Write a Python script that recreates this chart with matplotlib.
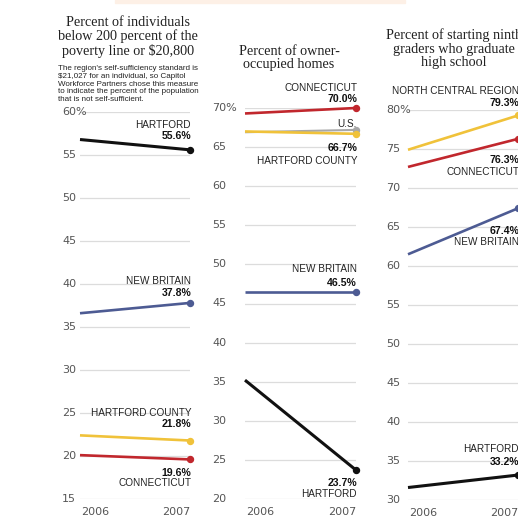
import matplotlib.pyplot as plt
from matplotlib import transforms
from matplotlib.patches import Rectangle

W, H = 518, 520

years = ["2006", "2007"]

# Panel 1: individuals below 200% of poverty line
pov_hartford = [56.8, 55.6]
pov_new_britain = [36.6, 37.8]
pov_hartford_county = [22.4, 21.8]
pov_connecticut = [20.1, 19.6]
pov_ticks = [15, 20, 25, 30, 35, 40, 45, 50, 55, 60]

# Panel 2: owner-occupied homes
own_connecticut = [69.3, 70.0]
own_us = [66.9, 67.2]
own_hartford_county = [67.0, 66.7]
own_new_britain = [46.5, 46.5]
own_hartford = [35.2, 23.7]
own_ticks = [20, 25, 30, 35, 40, 45, 50, 55, 60, 65, 70]

# Panel 3: ninth graders who graduate
grad_north_central = [74.9, 79.3]
grad_connecticut = [72.7, 76.3]
grad_new_britain = [61.5, 67.4]
grad_hartford = [31.6, 33.2]
grad_ticks = [30, 35, 40, 45, 50, 55, 60, 65, 70, 75, 80]

RED = "#c1272d"
YELLOW = "#f0c23a"
BLUE = "#4d5b93"
BLACK = "#111111"
GRAY = "#a8a8a8"
GRID = "#dcdcdc"

SERIF = ["Liberation Serif", "DejaVu Serif"]
NARROW = ["Liberation Sans Narrow", "Liberation Sans", "DejaVu Sans"]
TICKF = ["DejaVu Sans"]

fig = plt.figure(figsize=(W / 100, H / 100), dpi=100)
fig.patch.set_facecolor("white")

# faint strip of a header cut off at the top
fig.patches.append(Rectangle((115 / W, 1 - 3 / H), 290 / W, 3 / H,
                             transform=fig.transFigure, color="#fdf0e6", zorder=0))


def panel(left, top, right, bottom, ticks, ylab_x):
    ax = fig.add_axes([left / W, 1 - bottom / H, (right - left) / W, (bottom - top) / H])
    ax.set_xlim(0, 1)
    ax.set_ylim(ticks[0], ticks[-1])
    for s in ax.spines.values():
        s.set_visible(False)
    ax.set_xticks([])
    ax.set_yticks([])
    ax.patch.set_alpha(0)
    tr = transforms.blended_transform_factory(fig.transFigure, ax.transData)
    for i, y in enumerate(ticks):
        ax.axhline(y, color=GRID, lw=0.9, zorder=0)
        lab = f"{y}%" if i == len(ticks) - 1 else f"{y}"
        fig.text(ylab_x / W, y, lab, transform=tr, ha="left", va="center",
                 fontsize=8, color="#555555", family=TICKF)
    for x, yr, ha in [(0, years[0], "left"), (1, years[1], "right")]:
        ax.annotate(yr, xy=(x, 0), xycoords=("data", "axes fraction"),
                    xytext=(1 if ha == "left" else 0, -9.5), textcoords="offset points",
                    ha=ha, va="center", fontsize=8, color="#555555", family=TICKF)
    return ax


def series(ax, vals, color, lw=1.9):
    ax.plot([0, 1], vals, color=color, lw=lw, solid_capstyle="butt", clip_on=False, zorder=3)
    ax.plot([1], [vals[1]], "o", ms=4.3, color=color, clip_on=False, zorder=4)


def label(ax, name, name_y, val, val_y):
    ax.text(1.01, name_y, name, ha="right", va="center", fontsize=7.2,
            color="#222222", family=NARROW, clip_on=False)
    ax.text(1.01, val_y, f"{val:.1f}%", ha="right", va="center", fontsize=7.6,
            fontweight="bold", color="#111111", family=NARROW, clip_on=False)


# ---- panel 1 ----
ax1 = panel(80, 112, 190, 499, pov_ticks, 62)
series(ax1, pov_hartford, BLACK, lw=2.2)
series(ax1, pov_new_britain, BLUE)
series(ax1, pov_hartford_county, YELLOW)
series(ax1, pov_connecticut, RED)
label(ax1, "HARTFORD", 58.5, pov_hartford[1], 57.2)
label(ax1, "NEW BRITAIN", 40.35, pov_new_britain[1], 38.95)
label(ax1, "HARTFORD COUNTY", 25.0, pov_hartford_county[1], 23.7)
label(ax1, "CONNECTICUT", 16.9, pov_connecticut[1], 18.05)

fig.text(128 / W, 1 - 37 / H, "Percent of individuals\nbelow 200 percent of the\npoverty line or $20,800",
         ha="center", va="center", fontsize=10.2, family=SERIF, color="#222222", linespacing=1.05)
fig.text(58 / W, 1 - 84 / H,
         "The region's self-sufficiency standard is\n$21,027 for an individual, so Capitol\n"
         "Workforce Partners chose this measure\nto indicate the percent of the population\n"
         "that is not self-sufficient.",
         ha="left", va="center", fontsize=5.8, family=NARROW, color="#222222", linespacing=1.15)

# ---- panel 2 ----
ax2 = panel(245, 108, 356, 499, own_ticks, 212)
series(ax2, own_us, GRAY, lw=1.5)
series(ax2, own_connecticut, RED)
series(ax2, own_hartford_county, YELLOW)
series(ax2, own_new_britain, BLUE)
series(ax2, own_hartford, BLACK, lw=2.2)
label(ax2, "CONNECTICUT", 72.6, own_connecticut[1], 71.15)
ax2.text(1.01, 68.0, "U.S.", ha="right", va="center", fontsize=7.2,
         color="#222222", family=NARROW, clip_on=False)
label(ax2, "HARTFORD COUNTY", 63.2, own_hartford_county[1], 64.85)
label(ax2, "NEW BRITAIN", 49.4, own_new_britain[1], 47.65)
label(ax2, "HARTFORD", 20.7, own_hartford[1], 22.0)

fig.text(289 / W, 1 - 58 / H, "Percent of owner-\noccupied homes",
         ha="center", va="center", fontsize=10.2, family=SERIF, color="#222222", linespacing=1.05)

# ---- panel 3 (cut off at the right edge) ----
ax3 = panel(408, 110, 518, 500, grad_ticks, 386)
series(ax3, grad_north_central, YELLOW)
series(ax3, grad_connecticut, RED)
series(ax3, grad_new_britain, BLUE)
series(ax3, grad_hartford, BLACK, lw=2.2)
label(ax3, "NORTH CENTRAL REGION", 82.5, grad_north_central[1], 80.9)
label(ax3, "CONNECTICUT", 72.1, grad_connecticut[1], 73.6)
label(ax3, "NEW BRITAIN", 63.1, grad_new_britain[1], 64.5)
label(ax3, "HARTFORD", 36.6, grad_hartford[1], 34.9)

fig.text(454 / W, 1 - 49 / H, "Percent of starting ninth\ngraders who graduate\nhigh school",
         ha="center", va="center", fontsize=10.2, family=SERIF, color="#222222", linespacing=1.05)

fig.savefig("out.png", dpi=100)
